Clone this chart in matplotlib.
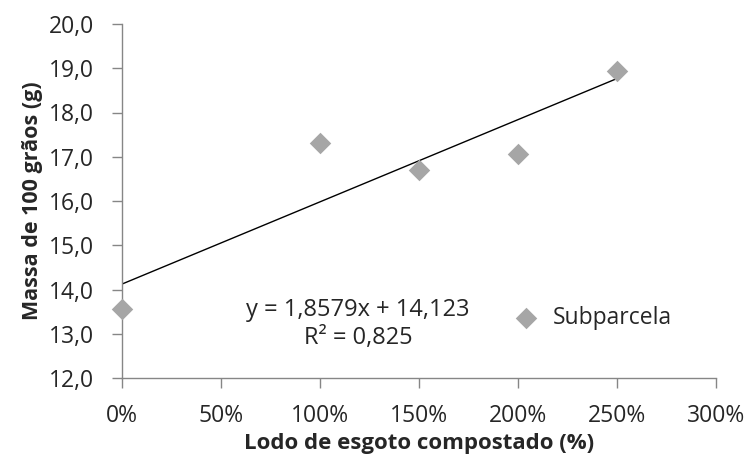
import numpy as np
import matplotlib.pyplot as plt
from matplotlib.ticker import FuncFormatter

plt.rcParams['font.family'] = ['Open Sans', 'DejaVu Sans']

# data
doses = [0.0, 1.0, 1.5, 2.0, 2.5]          # fraction (0% .. 250%)
massa = [13.56, 17.31, 16.70, 17.06, 18.94]
slope, intercept = 1.8579, 14.123
eq_text = "y = 1,8579x + 14,123\nR² = 0,825"
series_name = "Subparcela"

grey = '#a6a6a6'
axis_col = '#868686'
txt_col = '#262626'

fig = plt.figure(figsize=(7.48, 4.55), dpi=100)
ax = fig.add_axes([122 / 748, 1 - 378 / 455, (716 - 122) / 748, (378 - 24) / 455])

ax.scatter(doses, massa, marker='D', s=120, color=grey, zorder=3, label=series_name,
           linewidths=0, clip_on=False)
xl = np.array([0, 2.5])
ax.plot(xl, slope * xl + intercept, color='black', lw=1, zorder=2)

ax.set_xlim(0, 3)
ax.set_ylim(12, 20)
ax.set_xticks(np.arange(0, 3.01, 0.5))
ax.set_yticks(np.arange(12, 20.01, 1))
ax.xaxis.set_major_formatter(FuncFormatter(lambda v, p: f"{v * 100:.0f}%"))
ax.yaxis.set_major_formatter(FuncFormatter(lambda v, p: f"{v:.1f}".replace('.', ',')))

for s in ['top', 'right']:
    ax.spines[s].set_visible(False)
for s in ['left', 'bottom']:
    ax.spines[s].set_color(axis_col)
    ax.spines[s].set_linewidth(1)
ax.tick_params(colors=axis_col, labelcolor=txt_col, labelsize=16.5, length=7,
               direction='out', width=1)
ax.tick_params(axis='x', pad=12)
ax.tick_params(axis='y', pad=13)

ax.set_xlabel('Lodo de esgoto compostado (%)', fontsize=16, fontweight='bold',
              color=txt_col, labelpad=3)
ax.set_ylabel('Massa de 100 grãos (g)', fontsize=15.5, fontweight='bold',
              color=txt_col, labelpad=4)

ax.text(0.397, 0.152, eq_text, transform=ax.transAxes, ha='center', va='center',
        fontsize=17, color=txt_col, linespacing=1.2)

leg = ax.legend(loc='center left', bbox_to_anchor=(0.641, 0.17), frameon=False,
                fontsize=16.5, handletextpad=0.2, labelcolor=txt_col,
                borderaxespad=0, borderpad=0)

plt.savefig('out.png', dpi=100)
